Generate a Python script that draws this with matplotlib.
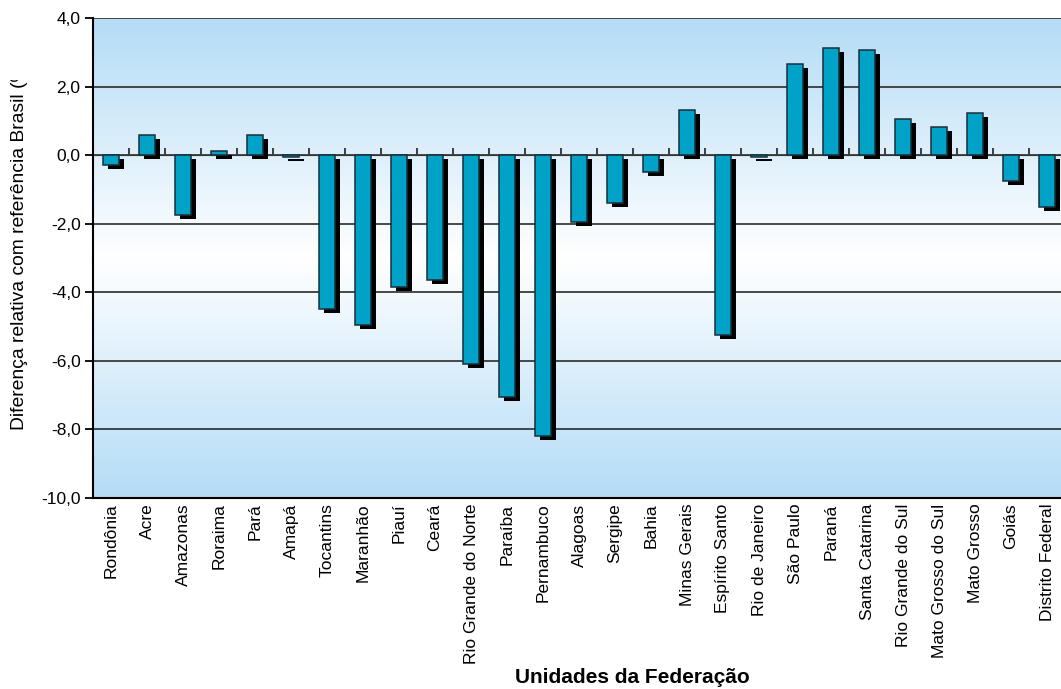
import numpy as np
import matplotlib
matplotlib.use("Agg")
import matplotlib.pyplot as plt
from matplotlib import transforms
from matplotlib.colors import LinearSegmentedColormap
from matplotlib.ticker import FuncFormatter

plt.rcParams['font.family'] = ['Liberation Sans', 'DejaVu Sans']

categories = ["Rondônia", "Acre", "Amazonas", "Roraima", "Pará", "Amapá", "Tocantins",
              "Maranhão", "Piauí", "Ceará", "Rio Grande do Norte", "Paraíba", "Pernambuco",
              "Alagoas", "Sergipe", "Bahia", "Minas Gerais", "Espírito Santo",
              "Rio de Janeiro", "São Paulo", "Paraná", "Santa Catarina",
              "Rio Grande do Sul", "Mato Grosso do Sul", "Mato Grosso", "Goiás",
              "Distrito Federal"]
values = [-0.3, 0.6, -1.75, 0.12, 0.58, -0.05, -4.5, -4.95, -3.85, -3.65, -6.1, -7.05,
          -8.2, -1.95, -1.4, -0.5, 1.33, -5.25, -0.04, 2.66, 3.12, 3.07, 1.04, 0.82,
          1.22, -0.75, -1.5]
yticks = [4.0, 2.0, 0.0, -2.0, -4.0, -6.0, -8.0, -10.0]
ylabel = "Diferença relativa com referência Brasil (%)"
xlabel = "Unidades da Federação"

W, H = 1061, 689
fig = plt.figure(figsize=(W / 100, H / 100), dpi=100)
L, R, T, B = 93, 1065, 18, 498
ax = fig.add_axes([L / W, (H - B) / H, (R - L) / W, (B - T) / H])

n = len(categories)
x = np.arange(n)
ax.set_xlim(-0.5, n - 0.5)
ax.set_ylim(-10, 4)

# gradient background
cmap = LinearSegmentedColormap.from_list("bg", ["#b4dcf6", "#ffffff", "#b4dcf6"])
grad = np.linspace(0, 1, 256).reshape(-1, 1)
ax.imshow(grad, aspect='auto', cmap=cmap, extent=[-0.5, n - 0.5, -10, 4],
          origin='upper', zorder=0)

# gridlines
for yv in yticks:
    ax.axhline(yv, color='#3a3a3a', lw=1.3, zorder=1)

bw = 0.42
shadow_tr = ax.transData + transforms.ScaledTranslation(5 / 100, -4 / 100, fig.dpi_scale_trans)
sh = ax.bar(x, values, width=bw, color='black', linewidth=0, zorder=2)
for p in sh:
    p.set_transform(shadow_tr)
ax.bar(x, values, width=bw, color='#00a2c8', edgecolor='#1b2f38', linewidth=1.1, zorder=3)

# zero axis with boundary ticks
sec = ax.secondary_xaxis(10 / 14)
sec.spines['bottom'].set_color('#3a3a3a')
sec.spines['bottom'].set_linewidth(1.3)
sec.set_xticks(np.arange(n - 1) + 0.5)
sec.set_xticklabels([])
sec.tick_params(axis='x', length=5, width=1.2, color='#222222', direction='out')

ax.set_xticks(x)
ax.set_xticklabels(categories, rotation=90, fontsize=12.5, va='top', ha='center')
ax.tick_params(axis='x', length=0, pad=4)
ax.set_yticks(yticks)
ax.yaxis.set_major_formatter(FuncFormatter(lambda v, p: f"{v:.1f}".replace('.', ',')))
ax.tick_params(axis='y', length=6, width=1.3, labelsize=12.5, pad=3, direction='out')

for s in ['top', 'right']:
    ax.spines[s].set_visible(False)
ax.spines['left'].set_linewidth(1.5)
ax.spines['bottom'].set_linewidth(1.5)
ax.spines['left'].set_zorder(5)
ax.spines['bottom'].set_zorder(5)

yl = fig.text(20 / W, (H - 430) / H, ylabel, rotation=90, ha='center', va='bottom',
              fontsize=13.9)
yl.set_clip_box(transforms.Bbox.from_extents(0, 0, 60, H - 80))
yl.set_clip_on(True)
fig.text(632 / W, (H - 683) / H, xlabel, ha='center', va='baseline', fontsize=15,
         fontweight='bold')

fig.savefig("out.png", dpi=100)
